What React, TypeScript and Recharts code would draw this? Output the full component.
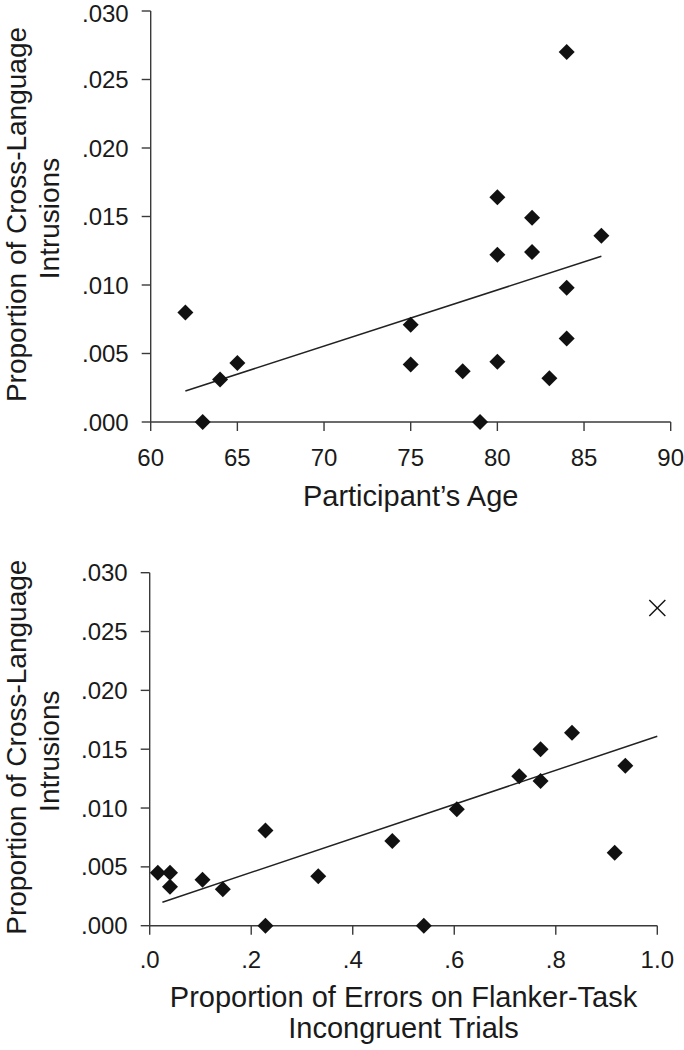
import { ScatterChart, Scatter, XAxis, YAxis, ReferenceLine } from "recharts";

// top panel: participant's age
const ageX = [62, 63, 64, 65, 75, 75, 78, 79, 80, 80, 80, 82, 82, 83, 84, 84, 84, 86];
const ageY = [0.008, 0, 0.0031, 0.0043, 0.0071, 0.0042, 0.0037, 0, 0.0164, 0.0122, 0.0044, 0.0149, 0.0124, 0.0032, 0.027, 0.0098, 0.0061, 0.0136];
const ageTrendX = [62, 86];
const ageTrendY = [0.00226, 0.0121];
const ageTicks = [60, 65, 70, 75, 80, 85, 90];

// bottom panel: flanker errors
const flankerX = [0.016, 0.04, 0.04, 0.104, 0.144, 0.228, 0.228, 0.332, 0.478, 0.54, 0.605, 0.728, 0.77, 0.77, 0.832, 0.916, 0.937];
const flankerY = [0.0045, 0.0045, 0.0033, 0.0039, 0.0031, 0.0081, 0, 0.0042, 0.0072, 0, 0.0099, 0.0127, 0.0123, 0.015, 0.0164, 0.0062, 0.0136];
const outlierX = [1.0];
const outlierY = [0.027];
const flankerTrendX = [0.025, 1.0];
const flankerTrendY = [0.002, 0.0161];
const flankerTicks = [0, 0.2, 0.4, 0.6, 0.8, 1.0];

const intrusionTicks = [0, 0.005, 0.01, 0.015, 0.02, 0.025, 0.03];

const FONT = "'Liberation Sans', Arial, Helvetica, sans-serif";
const INK = "#1a1a1a";
const AXIS = "#3a3a3a";

const agePoints = ageX.map((x, i) => ({ x, y: ageY[i] }));
const flankerPoints = flankerX.map((x, i) => ({ x, y: flankerY[i] }));
const outlierPoints = outlierX.map((x, i) => ({ x, y: outlierY[i] }));

const fmtY = (v: number) => v.toFixed(3).replace(/^0/, "");
const fmtFlanker = (v: number) => (v >= 1 ? v.toFixed(1) : v.toFixed(1).replace(/^0/, ""));

const Diamond = (props: any) => {
  const { cx, cy } = props;
  const r = 8;
  return <path d={`M${cx},${cy - r}L${cx + r},${cy}L${cx},${cy + r}L${cx - r},${cy}Z`} fill="#111" />;
};

const Cross = (props: any) => {
  const { cx, cy } = props;
  const r = 8;
  return (
    <g stroke="#111" strokeWidth={1.4}>
      <line x1={cx - r} y1={cy - r} x2={cx + r} y2={cy + r} />
      <line x1={cx - r} y1={cy + r} x2={cx + r} y2={cy - r} />
    </g>
  );
};

const YTitle = (props: any) => {
  const vb = props.viewBox || {};
  const cy = vb.y + vb.height / 2;
  return (
    <g fontFamily={FONT} fontSize={28} fill={INK}>
      <text x={26} y={cy - 2} transform={`rotate(-90 26 ${cy - 2})`} textAnchor="middle">
        Proportion of Cross-Language
      </text>
      <text x={59} y={cy + 2} transform={`rotate(-90 59 ${cy + 2})`} textAnchor="middle">
        Intrusions
      </text>
    </g>
  );
};

const AgeTitle = (props: any) => {
  const vb = props.viewBox || {};
  return (
    <text x={vb.x + vb.width / 2} y={vb.y + 84} textAnchor="middle" fontFamily={FONT} fontSize={29} fill={INK}>
      Participant’s Age
    </text>
  );
};

const FlankerTitle = (props: any) => {
  const vb = props.viewBox || {};
  const cx = vb.x + vb.width / 2;
  return (
    <g fontFamily={FONT} fontSize={29} fill={INK} textAnchor="middle">
      <text x={cx} y={vb.y + 81}>Proportion of Errors on Flanker-Task</text>
      <text x={cx} y={vb.y + 112}>Incongruent Trials</text>
    </g>
  );
};

const tickStyle = { fill: INK, fontSize: 24, fontFamily: FONT };

export default function App() {
  return (
    <div style={{ position: "absolute", left: 0, top: 0, width: 684, height: 1050, background: "#fff" }}>
      <ScatterChart width={684} height={520} margin={{ top: 11, right: 13.3, bottom: 0, left: 0 }}>
        <XAxis
          type="number"
          dataKey="x"
          domain={[60, 90]}
          ticks={ageTicks}
          height={98}
          tickSize={9}
          tickMargin={18}
          tick={tickStyle}
          stroke={AXIS}
          strokeWidth={1.4}
          label={<AgeTitle />}
        />
        <YAxis
          type="number"
          dataKey="y"
          domain={[0, 0.03]}
          ticks={intrusionTicks}
          width={150.7}
          tickSize={9}
          tickMargin={13}
          tick={tickStyle}
          tickFormatter={fmtY}
          stroke={AXIS}
          strokeWidth={1.4}
          label={<YTitle />}
        />
        <ReferenceLine
          segment={[
            { x: ageTrendX[0], y: ageTrendY[0] },
            { x: ageTrendX[1], y: ageTrendY[1] },
          ]}
          stroke="#222"
          strokeWidth={1.5}
        />
        <Scatter data={agePoints} shape={<Diamond />} isAnimationActive={false} />
      </ScatterChart>
      <ScatterChart width={684} height={530} margin={{ top: 52.7, right: 26.7, bottom: 0, left: 0 }}>
        <XAxis
          type="number"
          dataKey="x"
          domain={[0, 1]}
          ticks={flankerTicks}
          tickFormatter={fmtFlanker}
          height={124.3}
          tickSize={9}
          tickMargin={16}
          tick={tickStyle}
          stroke={AXIS}
          strokeWidth={1.4}
          label={<FlankerTitle />}
        />
        <YAxis
          type="number"
          dataKey="y"
          domain={[0, 0.03]}
          ticks={intrusionTicks}
          width={149.7}
          tickSize={9}
          tickMargin={13}
          tick={tickStyle}
          tickFormatter={fmtY}
          stroke={AXIS}
          strokeWidth={1.4}
          label={<YTitle />}
        />
        <ReferenceLine
          segment={[
            { x: flankerTrendX[0], y: flankerTrendY[0] },
            { x: flankerTrendX[1], y: flankerTrendY[1] },
          ]}
          stroke="#222"
          strokeWidth={1.5}
        />
        <Scatter data={flankerPoints} shape={<Diamond />} isAnimationActive={false} />
        <Scatter data={outlierPoints} shape={<Cross />} isAnimationActive={false} />
      </ScatterChart>
    </div>
  );
}
